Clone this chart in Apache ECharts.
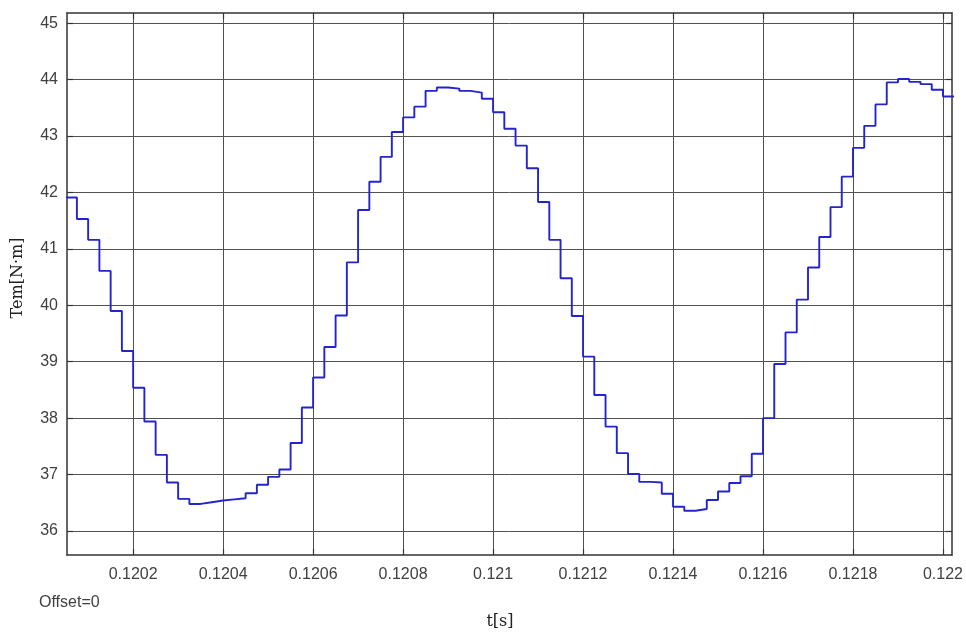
<!DOCTYPE html>
<html>
<head>
<meta charset="utf-8">
<script src="https://cdn.jsdelivr.net/npm/echarts@6/dist/echarts.min.js"></script>
<style>
html,body{margin:0;padding:0;background:#fff;}
#chart{width:966px;height:635px;}
</style>
</head>
<body>
<div id="chart"></div>
<script>
// Sample times (s) of the zero-order-hold torque signal
const times = [0.12005, 0.120075, 0.1201, 0.120125, 0.12015, 0.120175, 0.1202, 0.120225, 0.12025, 0.120275,
  0.1203, 0.120325, 0.12035, 0.120375, 0.1204, 0.120425, 0.12045, 0.120475, 0.1205, 0.120525,
  0.12055, 0.120575, 0.1206, 0.120625, 0.12065, 0.120675, 0.1207, 0.120725, 0.12075, 0.120775,
  0.1208, 0.120825, 0.12085, 0.120875, 0.1209, 0.120925, 0.12095, 0.120975, 0.121, 0.121025,
  0.12105, 0.121075, 0.1211, 0.121125, 0.12115, 0.121175, 0.1212, 0.121225, 0.12125, 0.121275,
  0.1213, 0.121325, 0.12135, 0.121375, 0.1214, 0.121425, 0.12145, 0.121475, 0.1215, 0.121525,
  0.12155, 0.121575, 0.1216, 0.121625, 0.12165, 0.121675, 0.1217, 0.121725, 0.12175, 0.121775,
  0.1218, 0.121825, 0.12185, 0.121875, 0.1219, 0.121925, 0.12195, 0.121975, 0.122, 0.122025];
// Tem [N·m]
const torque = [41.91, 41.53, 41.16, 40.61, 39.90, 39.19, 38.54, 37.94, 37.35, 36.86,
  36.57, 36.48, 36.51, 36.54, 36.56, 36.58, 36.67, 36.82, 36.96, 37.09,
  37.56, 38.19, 38.72, 39.26, 39.82, 40.76, 41.69, 42.19, 42.63, 43.07,
  43.33, 43.52, 43.80, 43.86, 43.84, 43.80, 43.77, 43.66, 43.42, 43.13,
  42.83, 42.43, 41.83, 41.16, 40.48, 39.81, 39.09, 38.41, 37.85, 37.38,
  37.01, 36.87, 36.86, 36.66, 36.43, 36.36, 36.39, 36.55, 36.70, 36.85,
  36.97, 37.37, 38.00, 38.96, 39.52, 40.10, 40.67, 41.21, 41.74, 42.28,
  42.79, 43.18, 43.56, 43.95, 44.01, 43.96, 43.92, 43.82, 43.70, 43.70];

const xTicks = [0.1202, 0.1204, 0.1206, 0.1208, 0.121, 0.1212, 0.1214, 0.1216, 0.1218, 0.122];
const xTickLabels = ['0.1202', '0.1204', '0.1206', '0.1208', '0.121', '0.1212', '0.1214', '0.1216', '0.1218', '0.122'];
const yTicks = [36, 37, 38, 39, 40, 41, 42, 43, 44, 45];
const yTickLabels = ['36', '37', '38', '39', '40', '41', '42', '43', '44', '45'];

const X_MIN = 0.120053, X_MAX = 0.12202;
const Y_MIN = 35.575, Y_MAX = 45.18;

function lookup(ticks, labels, v) {
  for (let i = 0; i < ticks.length; i++) {
    if (Math.abs(ticks[i] - v) < 1e-9) return labels[i];
  }
  return '';
}

const chart = echarts.init(document.getElementById('chart'), null, {renderer: 'canvas'});
const gridColor = '#505050';
const boxColor = '#333333';
const labelStyle = {color: '#404040', fontFamily: 'Liberation Sans, Arial, sans-serif', fontSize: 16};

const seriesData = times.map((t, i) => [t, torque[i]]);

chart.setOption({
  animation: false,
  backgroundColor: '#ffffff',
  grid: {left: 67, right: 12, top: 13, bottom: 80, containLabel: false},
  xAxis: [{
    type: 'value', min: X_MIN, max: X_MAX, position: 'bottom',
    axisLine: {show: true, onZero: false, lineStyle: {color: boxColor, width: 1.5}},
    axisTick: {show: true, inside: true, length: 6, customValues: xTicks, lineStyle: {color: boxColor, width: 1.2}},
    axisLabel: Object.assign({show: true, margin: 12, customValues: xTicks,
      formatter: v => lookup(xTicks, xTickLabels, v)}, labelStyle),
    splitLine: {show: true, lineStyle: {color: gridColor, width: 1}}
  }, {
    type: 'value', min: X_MIN, max: X_MAX, position: 'top',
    axisLine: {show: true, onZero: false, lineStyle: {color: boxColor, width: 1.5}},
    axisTick: {show: true, inside: true, length: 6, customValues: xTicks, lineStyle: {color: boxColor, width: 1.2}},
    axisLabel: {show: false},
    splitLine: {show: false}
  }],
  yAxis: [{
    type: 'value', min: Y_MIN, max: Y_MAX, position: 'left',
    axisLine: {show: true, onZero: false, lineStyle: {color: boxColor, width: 1.5}},
    axisTick: {show: true, inside: true, length: 6, customValues: yTicks, lineStyle: {color: boxColor, width: 1.2}},
    axisLabel: Object.assign({show: true, margin: 9, customValues: yTicks,
      formatter: v => lookup(yTicks, yTickLabels, v)}, labelStyle),
    splitLine: {show: true, lineStyle: {color: gridColor, width: 1}}
  }, {
    type: 'value', min: Y_MIN, max: Y_MAX, position: 'right',
    axisLine: {show: true, onZero: false, lineStyle: {color: boxColor, width: 1.5}},
    axisTick: {show: true, inside: true, length: 6, customValues: yTicks, lineStyle: {color: boxColor, width: 1.2}},
    axisLabel: {show: false},
    splitLine: {show: false}
  }],
  series: [{
    type: 'line',
    xAxisIndex: 0, yAxisIndex: 0,
    data: seriesData,
    step: 'end',
    showSymbol: false,
    symbol: 'none',
    clip: true,
    lineStyle: {color: '#2424cc', width: 1.9},
    z: 5
  }],
  graphic: [
    {type: 'text', left: 39, top: 595,
      style: {text: 'Offset=0', fill: '#404040', font: '16px "Liberation Sans", Arial, sans-serif'}},
    {type: 'text', x: 500, y: 622,
      style: {text: 't[s]', fill: '#222', font: '16px "DejaVu Serif", serif', align: 'center', verticalAlign: 'middle'}},
    {type: 'text', x: 18, y: 278, rotation: Math.PI / 2,
      style: {text: 'Tem[N·m]', fill: '#222', font: '16px "DejaVu Serif", serif', align: 'center', verticalAlign: 'middle'}}
  ]
});
</script>
</body>
</html>
